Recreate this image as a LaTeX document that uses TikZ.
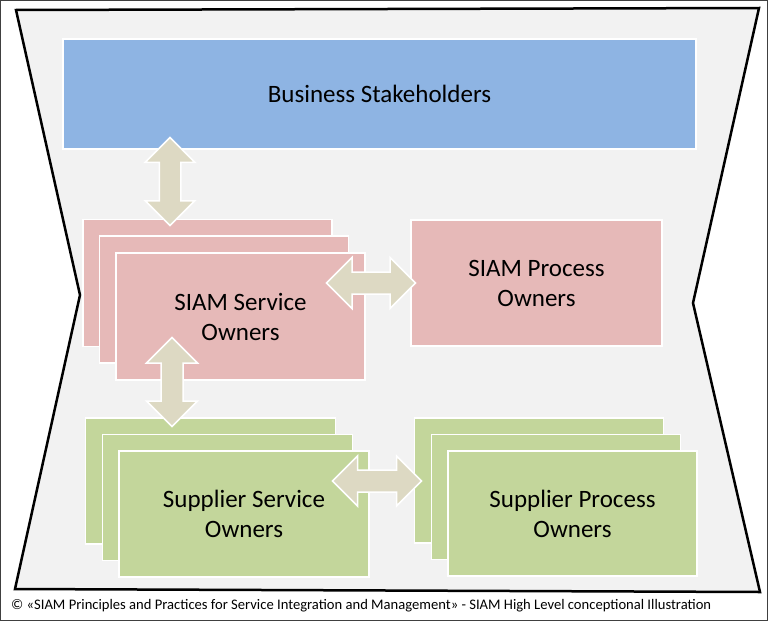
\documentclass[tikz,border=0pt]{standalone}
\usepackage{fontspec}
\setmainfont{Carlito}
\usetikzlibrary{shapes.arrows}
\definecolor{bizblue}{HTML}{8EB4E3}
\definecolor{siampink}{HTML}{E6B9B8}
\definecolor{supgreen}{HTML}{C3D69B}
\definecolor{arrowbeige}{HTML}{DDD9C3}
\definecolor{framegray}{HTML}{F2F2F2}
\tikzset{
  box/.style = {
    draw=white, line width=1.5pt, inner sep=0pt,
    align=center, font=\fontsize{25}{30}\selectfont
  },
  pinkbox/.style = {box, fill=siampink, minimum width=249pt, minimum height=127pt},
  greenbox/.style = {box, fill=supgreen, minimum width=250pt, minimum height=126pt},
  link/.style = {
    double arrow, fill=arrowbeige, draw=white, line width=1.5pt,
    inner xsep=0pt, inner ysep=10.25pt, double arrow head extend=14.5pt,
    minimum height=89pt
  }
}

\begin{document}
\begin{tikzpicture}[x=1pt,y=-1pt]
  \useasboundingbox (0,0) rectangle (768,621);
  % frame
  \draw[line width=1pt,black!75] (0.5,0.5) rectangle (767.5,620.5);
  \draw[line width=2.5pt,fill=framegray,line join=miter]
    (16,10) -- (759,8) -- (693,303) -- (760,592) -- (15,589) -- (80,295) -- cycle;
  % stakeholders
  \node[box,fill=bizblue,minimum width=633pt,minimum height=110pt] (biz) at (379.5,94) {Business Stakeholders};
  % siam service owners
  \node[pinkbox] (svc3) at (207.5,283) {};
  \node[pinkbox] (svc2) at (224,299.5) {};
  \node[pinkbox] (svc) at (240.5,316.5) {SIAM Service\\Owners};
  % siam process owners
  \node[pinkbox,minimum width=251pt,minimum height=126pt] (proc) at (536.5,283) {SIAM Process\\Owners};
  % supplier service owners
  \node[greenbox] (sup3) at (210.5,481) {};
  \node[greenbox] (sup2) at (227.5,497.5) {};
  \node[greenbox] (sup) at (244,514) {Supplier Service\\Owners};
  % supplier process owners
  \node[greenbox,minimum width=249pt,minimum height=125pt] (supp3) at (539,480.5) {};
  \node[greenbox,minimum width=249pt,minimum height=125pt] (supp2) at (556,497) {};
  \node[greenbox,minimum width=249pt,minimum height=125pt] (supp) at (572.5,513.5) {Supplier Process\\Owners};
  % links
  \node[link,rotate=90,minimum height=88pt,inner ysep=10pt,double arrow head extend=14pt] (bizsvc) at (170,181.5) {};
  \node[link,rotate=90] (svcsup) at (172,382) {};
  \node[link] (svcproc) at (371,283) {};
  \node[link,double arrow head extend=14pt] (supsupp) at (377,481) {};
  % caption
  \node[anchor=west,inner sep=0pt,font=\fontsize{14.6}{17}\selectfont] (cap) at (11,605.5)
    {© «SIAM Principles and Practices for Service Integration and Management» - SIAM High Level conceptional Illustration};
\end{tikzpicture}
\end{document}
